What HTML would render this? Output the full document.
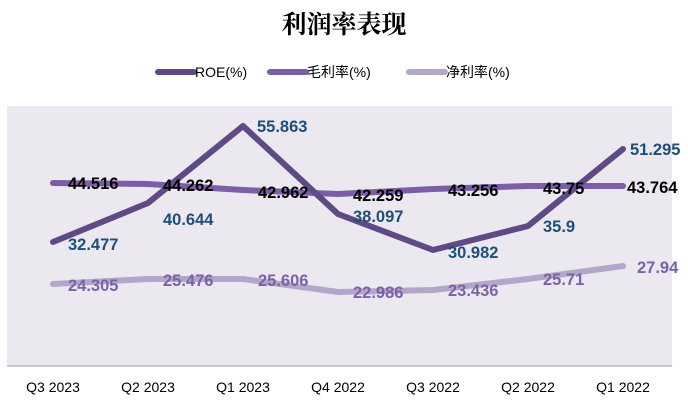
<!DOCTYPE html>
<html><head><meta charset="utf-8"><style>
body{margin:0;width:688px;height:404px;background:#fff;overflow:hidden}
</style></head><body>
<svg width="688" height="404" xmlns="http://www.w3.org/2000/svg" font-family="'Liberation Sans','Noto Sans CJK SC',sans-serif">
<text x="344" y="33" text-anchor="middle" font-size="25" font-weight="bold" font-family="'Noto Serif CJK SC',serif" fill="#000">利润率表现</text>
<line x1="158" y1="72" x2="194" y2="72" stroke="#5f4a86" stroke-width="6" stroke-linecap="round"/>
<text x="195" y="77" font-size="14" fill="#000">ROE(%)</text>
<line x1="270" y1="72" x2="306" y2="72" stroke="#7b5ea7" stroke-width="6" stroke-linecap="round"/>
<text x="307" y="77" font-size="14" fill="#000">毛利率(%)</text>
<line x1="409" y1="72" x2="445" y2="72" stroke="#b3a7c9" stroke-width="6" stroke-linecap="round"/>
<text x="446" y="77" font-size="14" fill="#000">净利率(%)</text>
<rect x="7" y="106" width="665" height="260" fill="#ebe9ef"/>
<line x1="7" y1="366" x2="672" y2="366" stroke="#bbb" stroke-width="1.5"/>
<g fill="none" stroke-linejoin="round" stroke-linecap="round" stroke-width="6">
<polyline stroke="#b3a7c9" points="53,284 148,279 243,279 338,292 433,290 528,279 623,266"/>
<polyline stroke="#7b5ea7" points="53,183 148,184 243,190 338,194 433,189 528,186 623,186"/>
<polyline stroke="#5f4a86" points="53,242 148,203 243,126 338,214 433,250 528,226 623,149"/>
</g>
<g font-size="16.5" font-weight="bold">
<g fill="#1f4e79">
<text x="68" y="250">32.477</text><text x="163" y="225">40.644</text><text x="257" y="132">55.863</text>
<text x="353" y="222">38.097</text><text x="448" y="258">30.982</text><text x="543" y="232">35.9</text><text x="630" y="155">51.295</text>
</g>
<g fill="#000">
<text x="68" y="189">44.516</text><text x="163" y="191">44.262</text><text x="258" y="198">42.962</text>
<text x="353" y="201">42.259</text><text x="448" y="196">43.256</text><text x="543" y="194">43.75</text><text x="627" y="193">43.764</text>
</g>
<g fill="#7b62a8">
<text x="68" y="291">24.305</text><text x="163" y="286">25.476</text><text x="258" y="286">25.606</text>
<text x="353" y="298">22.986</text><text x="448" y="296">23.436</text><text x="543" y="285">25.71</text><text x="637" y="273">27.94</text>
</g>
</g>
<g font-size="14" fill="#000" text-anchor="middle">
<text x="53" y="392">Q3 2023</text><text x="148" y="392">Q2 2023</text><text x="243" y="392">Q1 2023</text>
<text x="338" y="392">Q4 2022</text><text x="433" y="392">Q3 2022</text><text x="528" y="392">Q2 2022</text><text x="623" y="392">Q1 2022</text>
</g>
</svg>
</body></html>
